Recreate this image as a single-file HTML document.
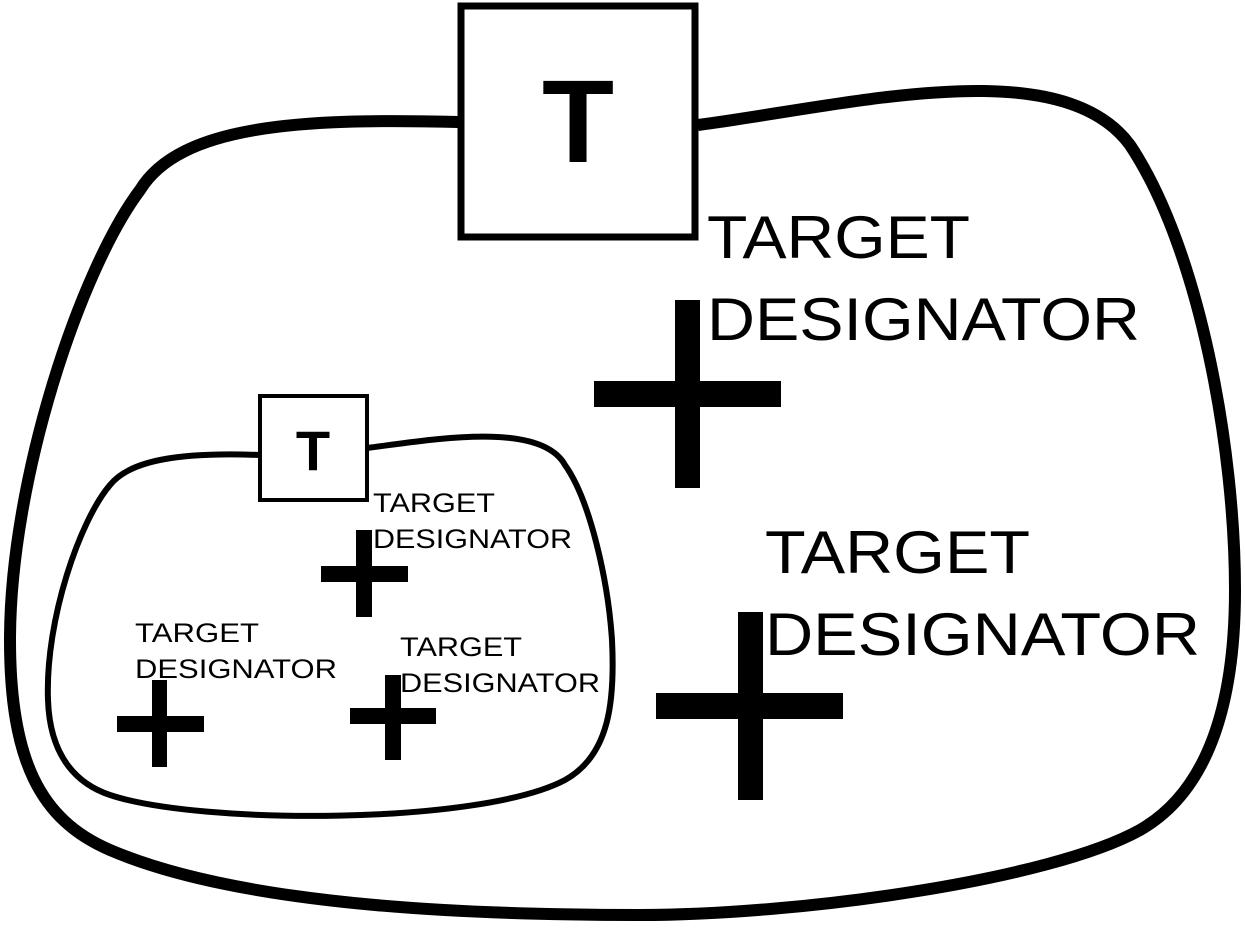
<!DOCTYPE html>
<html><head><meta charset="utf-8"><style>
html,body{margin:0;padding:0;background:#fff;}
svg{display:block;}
text{font-family:"Liberation Sans",Arial,sans-serif;fill:#000;}
</style></head><body>
<svg width="1245" height="935" viewBox="0 0 1245 935" xmlns="http://www.w3.org/2000/svg">
<path d="M 458 122 C 300 118, 180 125, 140 190 C 80 270, 10 480, 10 640 C 10 760, 40 820, 110 850 C 250 910, 500 915, 640 915 C 800 915, 1050 880, 1140 830 C 1210 790, 1235 700, 1235 590 C 1235 450, 1200 250, 1130 145 C 1060 50, 850 105, 698 125" fill="none" stroke="#000" stroke-width="12"/>
<rect x="461" y="6" width="234" height="231" fill="#fff" stroke="#000" stroke-width="7"/>
<text x="578" y="162" font-size="118" font-weight="bold" text-anchor="middle">T</text>
<path d="M 260 455 C 180 452, 130 460, 110 485 C 80 520, 45 620, 48 700 C 50 760, 80 785, 110 795 C 200 825, 480 825, 565 780 C 610 755, 615 700, 612 640 C 608 580, 590 500, 565 465 C 540 420, 430 440, 367 448" fill="none" stroke="#000" stroke-width="6"/>
<rect x="260" y="396" width="107" height="104" fill="#fff" stroke="#000" stroke-width="4"/>
<text x="313" y="470" font-size="56" font-weight="bold" text-anchor="middle">T</text>
<g fill="#000">
<rect x="675" y="300" width="25" height="188"/><rect x="594" y="381" width="187" height="26"/>
<rect x="738" y="612" width="25" height="188"/><rect x="656" y="693" width="187" height="26"/>
<rect x="356" y="530" width="16" height="87"/><rect x="321" y="566" width="87" height="16"/>
<rect x="152" y="680" width="15" height="87"/><rect x="117" y="716" width="87" height="16"/>
<rect x="385" y="675" width="16" height="85"/><rect x="350" y="708" width="86" height="16"/>
</g>
<text x="707" y="258" font-size="60" textLength="263" lengthAdjust="spacingAndGlyphs">TARGET</text>
<text x="707" y="340" font-size="60" textLength="433" lengthAdjust="spacingAndGlyphs">DESIGNATOR</text>
<text x="765" y="573" font-size="60" textLength="265" lengthAdjust="spacingAndGlyphs">TARGET</text>
<text x="765" y="655" font-size="60" textLength="435" lengthAdjust="spacingAndGlyphs">DESIGNATOR</text>
<text x="373" y="512" font-size="27" textLength="122" lengthAdjust="spacingAndGlyphs">TARGET</text>
<text x="373" y="548" font-size="27" textLength="199" lengthAdjust="spacingAndGlyphs">DESIGNATOR</text>
<text x="135" y="642" font-size="27" textLength="124" lengthAdjust="spacingAndGlyphs">TARGET</text>
<text x="135" y="678" font-size="27" textLength="202" lengthAdjust="spacingAndGlyphs">DESIGNATOR</text>
<text x="400" y="656" font-size="27" textLength="122" lengthAdjust="spacingAndGlyphs">TARGET</text>
<text x="400" y="692" font-size="27" textLength="200" lengthAdjust="spacingAndGlyphs">DESIGNATOR</text>
</svg>
</body></html>
